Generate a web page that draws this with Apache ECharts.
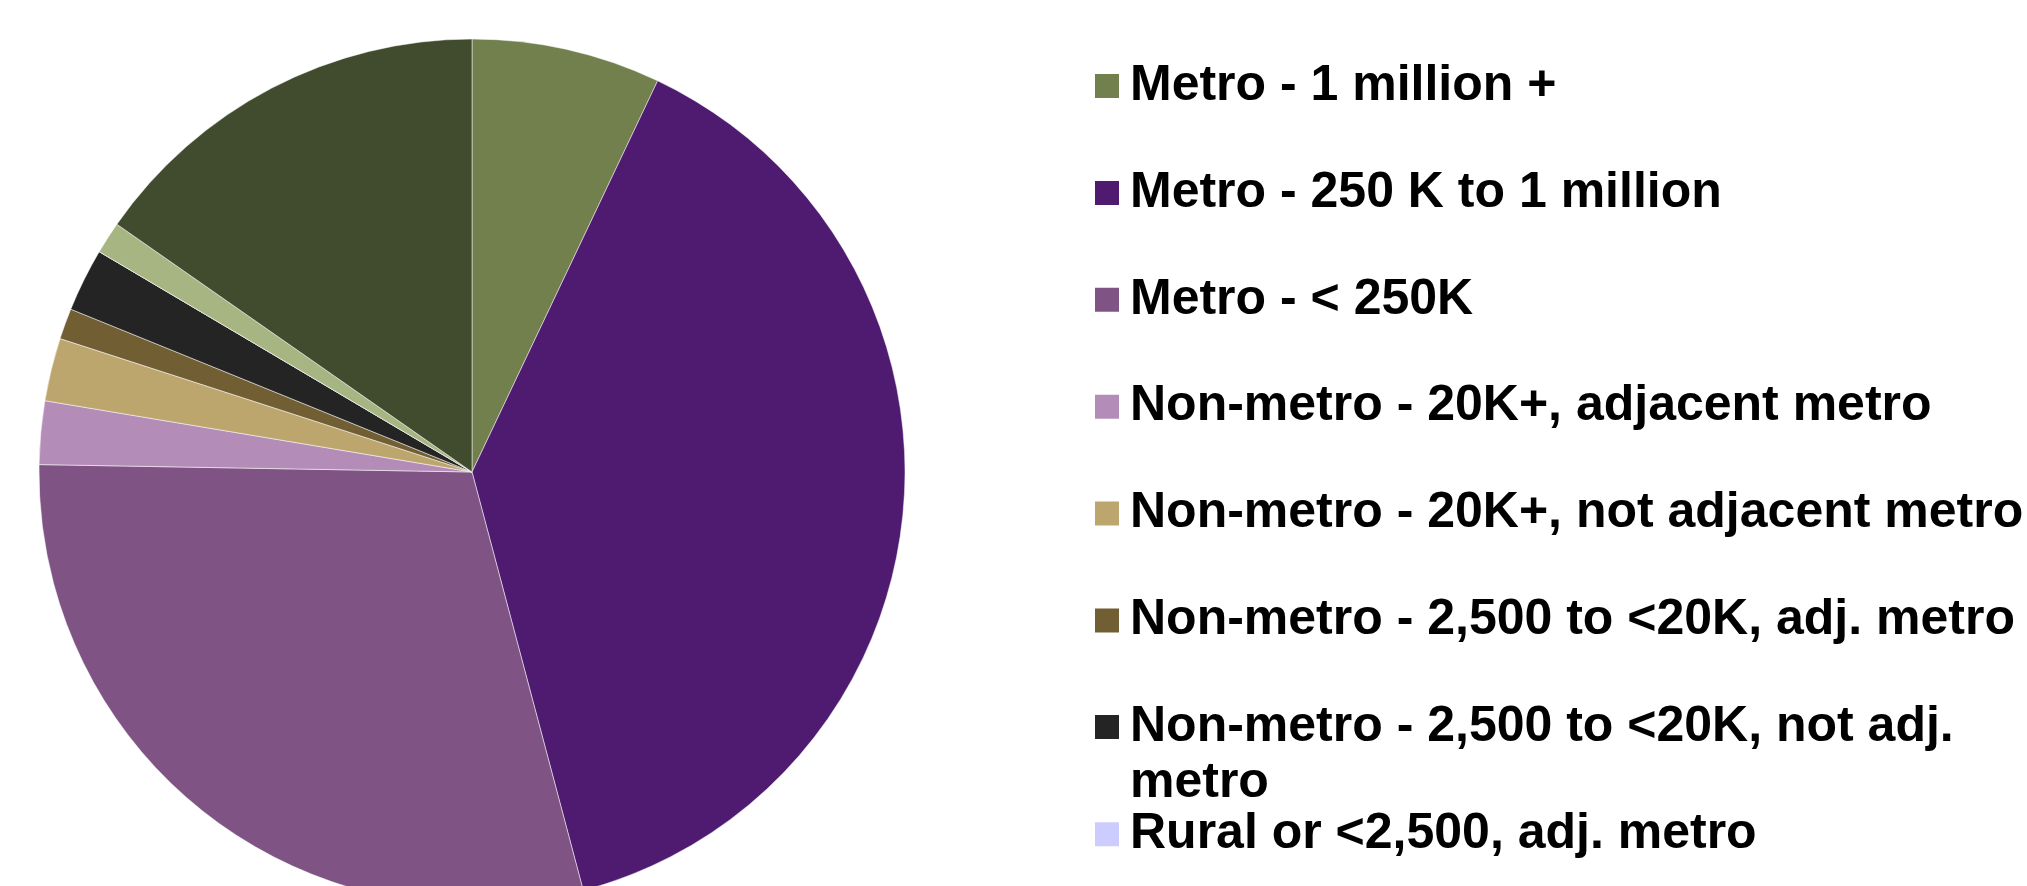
<!DOCTYPE html>
<html>
<head>
<meta charset="utf-8">
<script src="https://cdn.jsdelivr.net/npm/echarts@6/dist/echarts.min.js"></script>
<style>
  html, body { margin: 0; padding: 0; background: #fff; }
  #chart { width: 2027px; height: 886px; }
</style>
</head>
<body>
<div id="chart"></div>
<script>
// share of population by county type (%)
var categories = [
  'Metro - 1 million +',
  'Metro - 250 K to 1 million',
  'Metro - < 250K',
  'Non-metro - 20K+, adjacent metro',
  'Non-metro - 20K+, not adjacent metro',
  'Non-metro - 2,500 to <20K, adj. metro',
  'Non-metro - 2,500 to <20K, not adj. metro',
  'Rural or <2,500, adj. metro',
  'Rural or <2,500, not adj. metro',
  'Unknown'
]
var values = [7.05, 38.8, 29.4, 2.36, 2.35, 1.15, 2.36, 0, 1.2, 15.3]
var colors = ['#72804E', '#4F1B70', '#7F5484', '#B48CB8', '#BDA66E', '#725E33', '#242424', '#CCCCFF', '#A7B583', '#414B2E']

// only the first 8 legend rows fit in the picture
var legendCount = 8
var wrapped = 'Non-metro - 2,500 to <20K, not adj. metro'

var myChart = echarts.init(document.getElementById('chart'))

var legends = categories.slice(0, legendCount).map(function (name, i) {
  var twoLines = name === wrapped
  return {
    orient: 'vertical',
    left: 1093,
    // the wrapped row carries a blank first line so its first text line sits on the swatch
    top: twoLines ? 643 : 58 + i * 106.9,
    padding: 0,
    itemWidth: 26,
    itemHeight: 26,
    icon: 'rect',
    selectedMode: false,
    data: [name],
    formatter: function (n) {
      return n === wrapped ? '\nNon-metro - 2,500 to <20K, not adj.\nmetro' : n
    },
    textStyle: {
      color: '#000',
      fontFamily: 'Liberation Sans',
      fontWeight: 'bold',
      fontSize: 50,
      lineHeight: 56,
      padding: [0, 0, 0, 5]
    }
  }
})

myChart.setOption({
  animation: false,
  legend: legends,
  series: [
    {
      type: 'pie',
      center: [472, 472],
      radius: 433,
      startAngle: 90,
      clockwise: true,
      label: { show: false },
      labelLine: { show: false },
      emphasis: { disabled: true },
      itemStyle: {
        borderColor: '#ffffff',
        borderWidth: 0.5
      },
      data: categories.map(function (name, i) {
        return { name: name, value: values[i], itemStyle: { color: colors[i] } }
      })
    }
  ]
})
</script>
</body>
</html>
